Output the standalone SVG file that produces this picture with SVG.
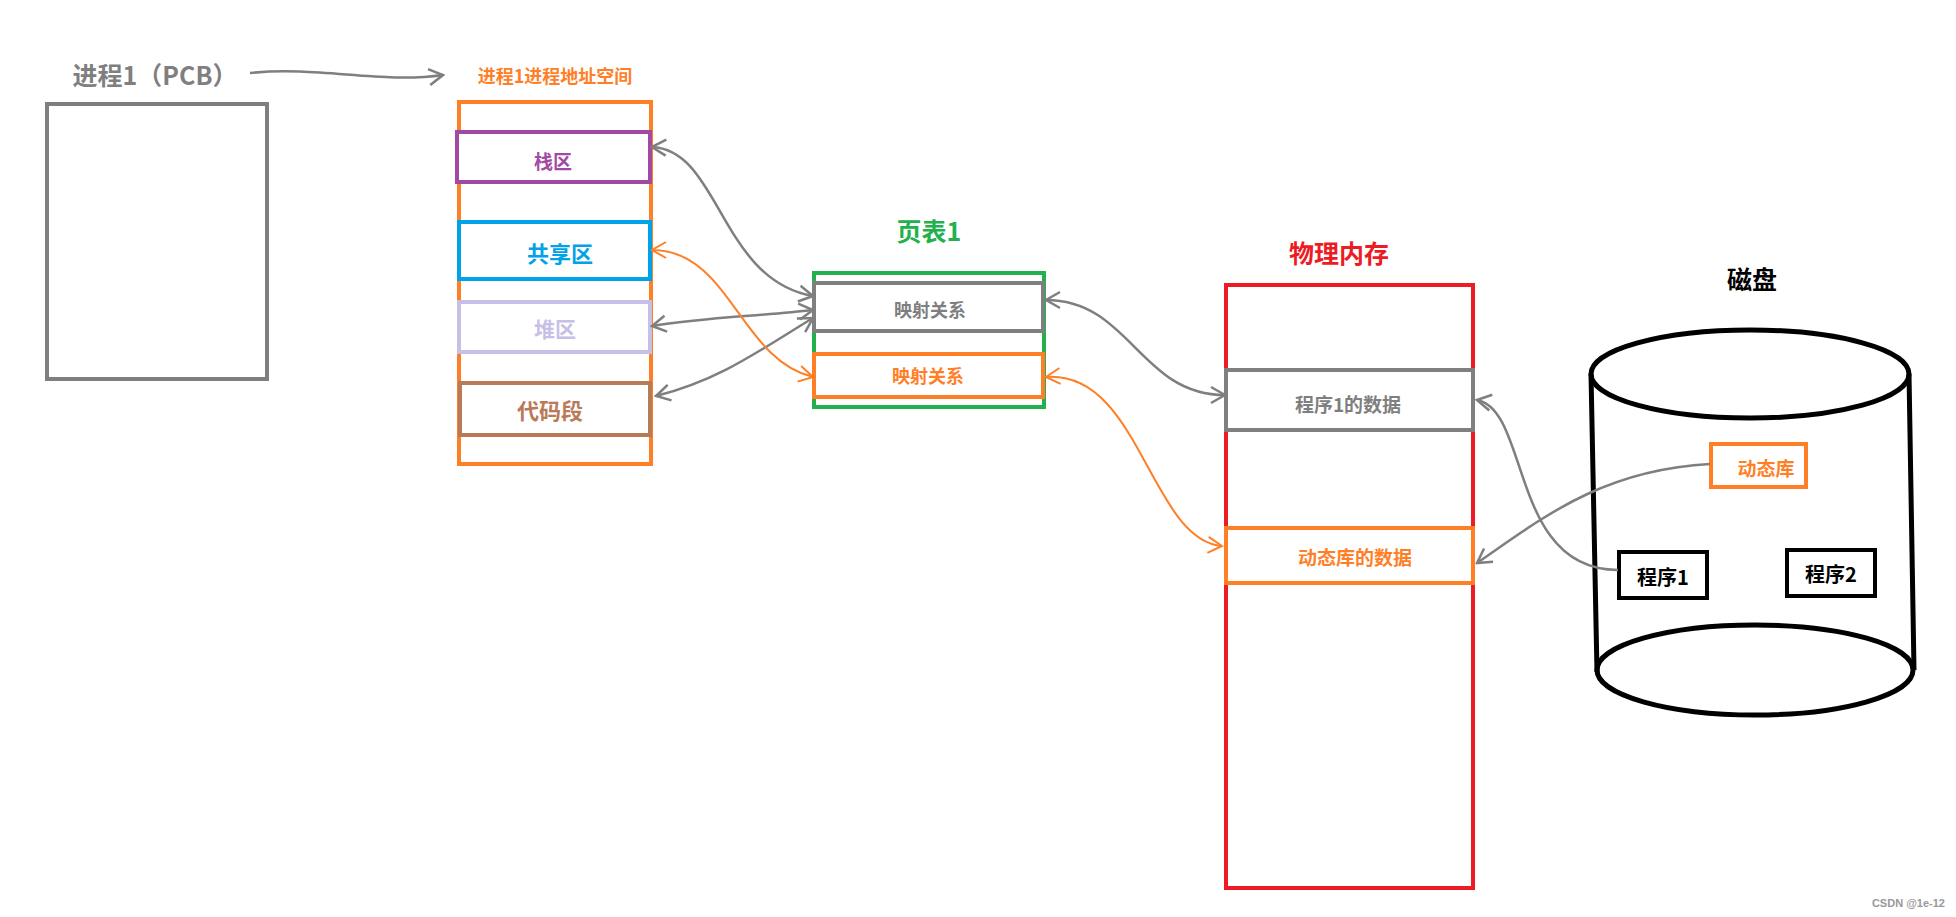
<svg xmlns="http://www.w3.org/2000/svg" width="1956" height="917" viewBox="0 0 1956 917">
<style>
text{font-family:"Noto Sans CJK SC","Liberation Sans",sans-serif;font-weight:bold;text-anchor:middle;dominant-baseline:central}
.b{fill:#fff;stroke-width:4}
.g{fill:none;stroke:#7f7f7f;stroke-width:2.5}
.o{fill:none;stroke:#ff7f27;stroke-width:2}
</style>
<defs>
<marker id="ag" viewBox="0 0 20 20" refX="18" refY="10" markerWidth="20" markerHeight="20" markerUnits="userSpaceOnUse" orient="auto-start-reverse"><path d="M4,2 L18,10 L4,18" fill="none" stroke="#7f7f7f" stroke-width="2.5"/></marker>
<marker id="ao" viewBox="0 0 20 20" refX="18" refY="10" markerWidth="20" markerHeight="20" markerUnits="userSpaceOnUse" orient="auto-start-reverse"><path d="M4,2 L18,10 L4,18" fill="none" stroke="#ff7f27" stroke-width="2"/></marker>
</defs>
<rect width="1956" height="917" fill="#fff"/>
<g id="pcb"><text x="155" y="74" font-size="25" fill="#7f7f7f">进程1（PCB）</text><rect x="47" y="104" width="220" height="275" class="b" stroke="#7f7f7f" stroke-width="5"/></g>
<g id="addr"><text x="555" y="75" font-size="18" fill="#ff7f27">进程1进程地址空间</text><rect x="459" y="102" width="192" height="362" class="b" stroke="#ff7f27"/></g>
<g id="stack"><rect x="457" y="132" width="193" height="50" class="b" stroke="#a349a4"/><text x="553" y="160" font-size="19" fill="#a349a4">栈区</text></g>
<g id="shared"><rect x="459" y="222" width="191" height="57" class="b" stroke="#00a2e8"/><text x="560" y="252" font-size="22" fill="#00a2e8">共享区</text></g>
<g id="heap"><rect x="459" y="302" width="191" height="50" class="b" stroke="#c8bfe7"/><text x="555" y="328" font-size="21" fill="#c8bfe7">堆区</text></g>
<g id="code"><rect x="460" y="383" width="190" height="52" class="b" stroke="#b97a57"/><text x="550" y="409" font-size="22" fill="#b97a57">代码段</text></g>
<g id="pt"><text x="929" y="230" font-size="25" fill="#22b14c">页表1</text><rect x="814" y="273" width="230" height="134" class="b" stroke="#22b14c"/></g>
<g id="map1"><rect x="814" y="283" width="229" height="48" class="b" stroke="#7f7f7f"/><text x="930" y="309" font-size="18" fill="#7f7f7f">映射关系</text></g>
<g id="map2"><rect x="814" y="354" width="229" height="43" class="b" stroke="#ff7f27"/><text x="928" y="375" font-size="18" fill="#ff7f27">映射关系</text></g>
<g id="mem"><text x="1339" y="252" font-size="25" fill="#ed1c24">物理内存</text><rect x="1226" y="285" width="247" height="603" class="b" stroke="#ed1c24"/></g>
<g id="p1data"><rect x="1226" y="370" width="247" height="60" class="b" stroke="#7f7f7f"/><text x="1348" y="403" font-size="19" fill="#7f7f7f">程序1的数据</text></g>
<g id="libdata"><rect x="1226" y="528" width="247" height="55" class="b" stroke="#ff7f27"/><text x="1355" y="556" font-size="19" fill="#ff7f27">动态库的数据</text></g>
<g id="disk"><text x="1752" y="278" font-size="25" fill="#000">磁盘</text>
<path d="M1591,374 L1597,672 M1909,374 L1914,670" stroke="#000" stroke-width="5" fill="none"/>
<ellipse cx="1750" cy="374" rx="159" ry="44" fill="none" stroke="#000" stroke-width="5"/>
<ellipse cx="1755" cy="670" rx="158" ry="45" fill="none" stroke="#000" stroke-width="5"/></g>
<g id="lib"><rect x="1711" y="444" width="95" height="43" class="b" stroke="#ff7f27"/><text x="1766" y="467" font-size="19" fill="#ff7f27">动态库</text></g>
<g id="prog1"><rect x="1619" y="552" width="88" height="46" class="b" stroke="#000"/><text x="1663" y="576" font-size="20" fill="#000">程序1</text></g>
<g id="prog2"><rect x="1787" y="550" width="88" height="46" class="b" stroke="#000"/><text x="1831" y="573" font-size="20" fill="#000">程序2</text></g>
<g id="connectors">
<path class="g" d="M250,73 C320,66 380,84 443,75" marker-end="url(#ag)"/>
<path class="g" d="M652,147 C720,150 720,280 813,296" marker-start="url(#ag)" marker-end="url(#ag)"/>
<path class="g" d="M652,326 C700,318 760,316 813,310" marker-start="url(#ag)" marker-end="url(#ag)"/>
<path class="g" d="M656,396 C720,380 760,350 813,318" marker-start="url(#ag)" marker-end="url(#ag)"/>
<path class="o" d="M652,250 C730,250 740,360 813,377" marker-start="url(#ao)" marker-end="url(#ao)"/>
<path class="g" d="M1046,300 C1130,300 1140,395 1225,395" marker-start="url(#ag)" marker-end="url(#ag)"/>
<path class="o" d="M1046,377 C1140,370 1150,540 1222,546" marker-start="url(#ao)" marker-end="url(#ao)"/>
<path class="g" d="M1618,570 C1510,570 1530,410 1477,400" marker-end="url(#ag)"/>
<path class="g" d="M1710,464 C1600,470 1540,520 1477,563" marker-end="url(#ag)"/>
</g>
<text x="1945" y="903" font-size="11" font-weight="normal" fill="#999" style="font-family:'Liberation Sans',sans-serif;text-anchor:end">CSDN @1e-12</text>
</svg>
